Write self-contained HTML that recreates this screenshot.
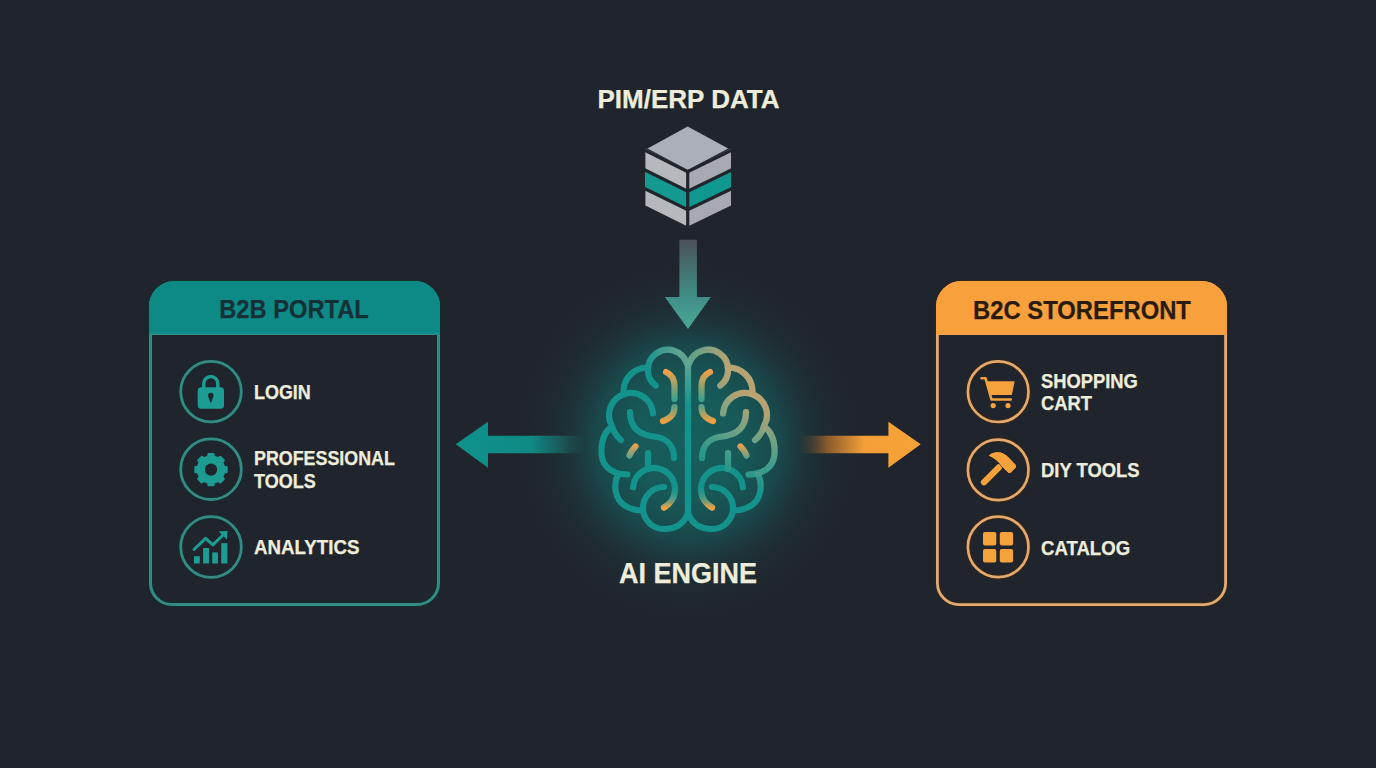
<!DOCTYPE html>
<html><head><meta charset="utf-8">
<style>
html,body{margin:0;padding:0;}
body{width:1376px;height:768px;overflow:hidden;background:#20252d;position:relative;font-family:"Liberation Sans",sans-serif;font-weight:bold;}
.t{position:absolute;white-space:nowrap;line-height:1;color:#eeeddb;}
svg{position:absolute;left:0;top:0;}
</style></head>
<body>
<svg width="1376" height="768" viewBox="0 0 1376 768">
<defs>
<radialGradient id="glow" cx="688" cy="442" r="185" gradientUnits="userSpaceOnUse" gradientTransform="translate(688,442) scale(0.958,1) translate(-688,-442)">
  <stop offset="0" stop-color="#165f5e"/>
  <stop offset="0.31" stop-color="#175958"/>
  <stop offset="0.52" stop-color="#1a484b"/>
  <stop offset="0.6" stop-color="#1c3c41"/>
  <stop offset="0.68" stop-color="#1e3238"/>
  <stop offset="0.78" stop-color="#1f2a31"/>
  <stop offset="0.9" stop-color="#20262e"/>
  <stop offset="1" stop-color="#20252d"/>
</radialGradient>
<radialGradient id="tanR" cx="598" cy="362" r="135" gradientUnits="userSpaceOnUse">
  <stop offset="0" stop-color="#c9a26a" stop-opacity="1"/>
  <stop offset="0.4" stop-color="#bba372" stop-opacity="0.95"/>
  <stop offset="0.7" stop-color="#8aa886" stop-opacity="0.55"/>
  <stop offset="1" stop-color="#6aa88e" stop-opacity="0"/>
</radialGradient>
<radialGradient id="grnL" cx="688" cy="348" r="45" gradientUnits="userSpaceOnUse">
  <stop offset="0" stop-color="#80aa92" stop-opacity="0.9"/>
  <stop offset="1" stop-color="#80aa92" stop-opacity="0"/>
</radialGradient>
<linearGradient id="downg" x1="0" y1="240" x2="0" y2="329" gradientUnits="userSpaceOnUse">
  <stop offset="0" stop-color="#4b5157"/>
  <stop offset="0.6" stop-color="#3f8c84"/>
  <stop offset="1" stop-color="#4aa89b"/>
</linearGradient>
<linearGradient id="leftg" x1="456" y1="0" x2="582" y2="0" gradientUnits="userSpaceOnUse">
  <stop offset="0" stop-color="#0f928c"/>
  <stop offset="0.6" stop-color="#0f8a85"/>
  <stop offset="0.85" stop-color="#1a5a5a" stop-opacity="0.9"/>
  <stop offset="1" stop-color="#1c4446" stop-opacity="0.4"/>
</linearGradient>
<linearGradient id="rightg" x1="796" y1="0" x2="921" y2="0" gradientUnits="userSpaceOnUse">
  <stop offset="0" stop-color="#3a3a2e" stop-opacity="0"/>
  <stop offset="0.25" stop-color="#8a5a2c"/>
  <stop offset="0.55" stop-color="#f4a038"/>
  <stop offset="1" stop-color="#f7a236"/>
</linearGradient>
<linearGradient id="lh" x1="688" y1="345" x2="600" y2="530" gradientUnits="userSpaceOnUse">
  <stop offset="0" stop-color="#6aa894"/>
  <stop offset="0.3" stop-color="#20a092"/>
  <stop offset="1" stop-color="#1a9890"/>
</linearGradient>
<linearGradient id="rh" x1="600" y1="360" x2="688" y2="530" gradientUnits="userSpaceOnUse">
  <stop offset="0" stop-color="#bc9e68"/>
  <stop offset="0.45" stop-color="#8ea584"/>
  <stop offset="1" stop-color="#1d9a90"/>
</linearGradient>
<linearGradient id="ob1" x1="0" y1="371" x2="0" y2="400" gradientUnits="userSpaceOnUse">
  <stop offset="0" stop-color="#f2a048"/><stop offset="1" stop-color="#3aa08e"/>
</linearGradient>
<linearGradient id="ob2" x1="0" y1="406" x2="0" y2="421" gradientUnits="userSpaceOnUse">
  <stop offset="0" stop-color="#5aa088"/><stop offset="1" stop-color="#f2a040"/>
</linearGradient>
<linearGradient id="od" x1="0" y1="445" x2="0" y2="457" gradientUnits="userSpaceOnUse">
  <stop offset="0" stop-color="#e8a048"/><stop offset="1" stop-color="#6aa088"/>
</linearGradient>
<linearGradient id="l7g" x1="0" y1="485" x2="0" y2="508" gradientUnits="userSpaceOnUse">
  <stop offset="0" stop-color="#17958c" stop-opacity="0"/><stop offset="0.55" stop-color="#6a9e84" stop-opacity="0.6"/><stop offset="1" stop-color="#f2a040"/>
</linearGradient>
</defs>
<rect x="480" y="240" width="416" height="410" fill="url(#glow)"/>
<g>
<polygon points="687.7,126.5 728.2,148.6 687.7,170 647.6,148.6" fill="#abafb6"/>
<polygon points="645.4,148.5 687.7,170.5 687.7,226.5 645.4,205.6" fill="#b5b8bd"/>
<polygon points="687.7,170.5 731,148.5 731,205.6 687.7,226.5" fill="#a7abb1"/>
<polygon points="645.4,169.5 687.7,191 687.7,209.5 645.4,188" fill="#13998f"/>
<polygon points="687.7,191 731,169.5 731,188 687.7,209.5" fill="#0f988f"/>
<g stroke="#20252d" stroke-width="3.2" fill="none" stroke-linecap="butt">
<polyline points="644,149.8 687.7,171.8 732.5,149.8"/>
<line x1="687.7" y1="171" x2="687.7" y2="228"/>
<polyline points="644,169.5 687.7,191.3 732.5,169.5"/>
<polyline points="644,188.2 687.7,209.8 732.5,188.2"/>
</g></g>
<path d="M679.4,239.8 L696.9,239.8 L696.9,297 L710.9,297 L688,329 L664.8,297 L679.4,297 Z" fill="url(#downg)"/>
<path d="M455.8,444.3 L488,421.7 L488,435.8 L582,435.8 L582,453.3 L488,453.3 L488,467.8 Z" fill="url(#leftg)"/>
<path d="M920.7,444.3 L888.4,421.7 L888.4,435.8 L796,435.8 L796,453.3 L888.4,453.3 L888.4,467.8 Z" fill="url(#rightg)"/>
<g><g fill="none" stroke="#14938c" stroke-width="6.2" stroke-linecap="round" stroke-linejoin="round">
<path d="M686.8,363.2 A20,20 0 1 0 655.7,385.6"/>
<path d="M648,367.5 A24,24 0 0 0 623.5,392"/>
<path d="M653,413.5 A22,22 0 1 0 612,426 Q614,434 621,440"/>
<path d="M609,429 C600,438 599,458 606,466 C611,472 619,474.5 627.5,474.5"/>
<path d="M618,474.5 C613,484 615,499 624,505 C630,509 636,510.5 643,510.5"/>
<path d="M664,487 A21,21 0 0 0 643,508 A21,21 0 0 0 664,529 C676,529 684,524 688,513"/>
<path d="M630,412 C630,432 645,436 657,437 C668,439 674,447 674,458"/>
<path d="M648,453 L648,469"/>
<path d="M633.1,487.2 A21,21 0 1 1 663.9,507.5"/>
</g>
<g fill="none" stroke="url(#grnL)" stroke-width="6.2" stroke-linecap="round" stroke-linejoin="round">
<path d="M686.8,363.2 A20,20 0 1 0 655.7,385.6"/>
<path d="M648,367.5 A24,24 0 0 0 623.5,392"/>
<path d="M653,413.5 A22,22 0 1 0 612,426 Q614,434 621,440"/>
<path d="M609,429 C600,438 599,458 606,466 C611,472 619,474.5 627.5,474.5"/>
<path d="M618,474.5 C613,484 615,499 624,505 C630,509 636,510.5 643,510.5"/>
<path d="M664,487 A21,21 0 0 0 643,508 A21,21 0 0 0 664,529 C676,529 684,524 688,513"/>
<path d="M630,412 C630,432 645,436 657,437 C668,439 674,447 674,458"/>
<path d="M648,453 L648,469"/>
</g>
<g fill="none" stroke-width="6.2" stroke-linecap="round">
<path d="M633.1,487.2 A21,21 0 1 1 663.9,507.5" stroke="url(#l7g)"/>
<path d="M666,372 Q674.5,376 674.5,386 L674.5,399" stroke="url(#ob1)"/>
<path d="M674.5,407 Q674.5,417 663,421" stroke="url(#ob2)"/>
<path d="M635.5,446.5 Q631.5,450.5 629.5,455.5" stroke="url(#od)"/>
</g></g>
<g transform="translate(1376,0) scale(-1,1)"><g fill="none" stroke="#14938c" stroke-width="6.2" stroke-linecap="round" stroke-linejoin="round">
<path d="M686.8,363.2 A20,20 0 1 0 655.7,385.6"/>
<path d="M648,367.5 A24,24 0 0 0 623.5,392"/>
<path d="M653,413.5 A22,22 0 1 0 612,426 Q614,434 621,440"/>
<path d="M609,429 C600,438 599,458 606,466 C611,472 619,474.5 627.5,474.5"/>
<path d="M618,474.5 C613,484 615,499 624,505 C630,509 636,510.5 643,510.5"/>
<path d="M664,487 A21,21 0 0 0 643,508 A21,21 0 0 0 664,529 C676,529 684,524 688,513"/>
<path d="M630,412 C630,432 645,436 657,437 C668,439 674,447 674,458"/>
<path d="M648,453 L648,469"/>
<path d="M633.1,487.2 A21,21 0 1 1 663.9,507.5"/>
</g>
<g fill="none" stroke="url(#tanR)" stroke-width="6.2" stroke-linecap="round" stroke-linejoin="round">
<path d="M686.8,363.2 A20,20 0 1 0 655.7,385.6"/>
<path d="M648,367.5 A24,24 0 0 0 623.5,392"/>
<path d="M653,413.5 A22,22 0 1 0 612,426 Q614,434 621,440"/>
<path d="M609,429 C600,438 599,458 606,466 C611,472 619,474.5 627.5,474.5"/>
<path d="M618,474.5 C613,484 615,499 624,505 C630,509 636,510.5 643,510.5"/>
<path d="M664,487 A21,21 0 0 0 643,508 A21,21 0 0 0 664,529 C676,529 684,524 688,513"/>
<path d="M630,412 C630,432 645,436 657,437 C668,439 674,447 674,458"/>
<path d="M648,453 L648,469"/>
</g>
<g fill="none" stroke-width="6.2" stroke-linecap="round">
<path d="M633.1,487.2 A21,21 0 1 1 663.9,507.5" stroke="url(#l7g)"/>
<path d="M666,372 Q674.5,376 674.5,386 L674.5,399" stroke="url(#ob1)"/>
<path d="M674.5,407 Q674.5,417 663,421" stroke="url(#ob2)"/>
<path d="M635.5,446.5 Q631.5,450.5 629.5,455.5" stroke="url(#od)"/>
</g></g>
<linearGradient id="mid" x1="0" y1="355" x2="0" y2="520" gradientUnits="userSpaceOnUse"><stop offset="0" stop-color="#72a892"/><stop offset="0.12" stop-color="#4aa092"/><stop offset="0.3" stop-color="#14948e"/><stop offset="1" stop-color="#11948f"/></linearGradient>
<path d="M688,362 L688,516" stroke="url(#mid)" stroke-width="6.2" stroke-linecap="round" fill="none"/>
<path d="M174.5,282.5 L414.5,282.5 A24.0,24.0 0 0 1 438.5,306.5 L438.5,583 A21.5,21.5 0 0 1 417,604.5 L172,604.5 A21.5,21.5 0 0 1 150.5,583 L150.5,306.5 A24.0,24.0 0 0 1 174.5,282.5 Z" fill="none" stroke="#10302f" stroke-width="5.2" stroke-opacity="0.8"/>
<path d="M174.5,282.5 L414.5,282.5 A24.0,24.0 0 0 1 438.5,306.5 L438.5,583 A21.5,21.5 0 0 1 417,604.5 L172,604.5 A21.5,21.5 0 0 1 150.5,583 L150.5,306.5 A24.0,24.0 0 0 1 174.5,282.5 Z" fill="none" stroke="#358a84" stroke-width="3"/>
<path d="M174.5,281 L414.5,281 A25.5,25.5 0 0 1 440,306.5 L440,335 L149,335 L149,306.5 A25.5,25.5 0 0 1 174.5,281 Z" fill="#0e8a86"/>
<line x1="150" y1="334.2" x2="439" y2="334.2" stroke="#2a908a" stroke-width="1.6"/>
<path d="M961.5,282.4 L1201.5,282.4 A24.1,24.1 0 0 1 1225.6,306.5 L1225.6,583 A21.6,21.6 0 0 1 1204,604.6 L959,604.6 A21.6,21.6 0 0 1 937.4,583 L937.4,306.5 A24.1,24.1 0 0 1 961.5,282.4 Z" fill="none" stroke="#3a2410" stroke-width="5.0" stroke-opacity="0.8"/>
<path d="M961.5,282.4 L1201.5,282.4 A24.1,24.1 0 0 1 1225.6,306.5 L1225.6,583 A21.6,21.6 0 0 1 1204,604.6 L959,604.6 A21.6,21.6 0 0 1 937.4,583 L937.4,306.5 A24.1,24.1 0 0 1 961.5,282.4 Z" fill="none" stroke="#e0ab74" stroke-width="2.8"/>
<path d="M961.5,281 L1201.5,281 A25.5,25.5 0 0 1 1227,306.5 L1227,335 L936,335 L936,306.5 A25.5,25.5 0 0 1 961.5,281 Z" fill="#f7a03c"/>
<line x1="937" y1="334.2" x2="1226" y2="334.2" stroke="#f0a050" stroke-width="1.6"/>
<circle cx="211" cy="391.6" r="30.3" fill="none" stroke="#10302f" stroke-opacity="0.8" stroke-width="5"/>
<circle cx="211" cy="391.6" r="30.3" fill="none" stroke="#368a83" stroke-width="2.8"/>
<circle cx="211" cy="469.2" r="30.3" fill="none" stroke="#10302f" stroke-opacity="0.8" stroke-width="5"/>
<circle cx="211" cy="469.2" r="30.3" fill="none" stroke="#368a83" stroke-width="2.8"/>
<circle cx="211" cy="547" r="30.3" fill="none" stroke="#10302f" stroke-opacity="0.8" stroke-width="5"/>
<circle cx="211" cy="547" r="30.3" fill="none" stroke="#368a83" stroke-width="2.8"/>
<circle cx="998.2" cy="391.7" r="30.3" fill="none" stroke="#3a2410" stroke-opacity="0.8" stroke-width="5"/>
<circle cx="998.2" cy="391.7" r="30.3" fill="none" stroke="#e2a970" stroke-width="2.7"/>
<circle cx="998.2" cy="469.9" r="30.3" fill="none" stroke="#3a2410" stroke-opacity="0.8" stroke-width="5"/>
<circle cx="998.2" cy="469.9" r="30.3" fill="none" stroke="#e2a970" stroke-width="2.7"/>
<circle cx="998.2" cy="546.9" r="30.3" fill="none" stroke="#3a2410" stroke-opacity="0.8" stroke-width="5"/>
<circle cx="998.2" cy="546.9" r="30.3" fill="none" stroke="#e2a970" stroke-width="2.7"/>
<path d="M203.8,388 L203.8,383.5 A7,7 0 0 1 217.8,383.5 L217.8,388" fill="none" stroke="#1c9c92" stroke-width="3.4"/>
<rect x="197.7" y="387.2" width="26.3" height="21.5" rx="3.5" fill="#1c9c92"/>
<circle cx="210.8" cy="395.5" r="2.7" fill="#20252d"/><path d="M208.4,396.5 L213.2,396.5 L211.2,402.8 L210.4,402.8 Z" fill="#20252d"/>
<polygon points="207.71,456.40 208.33,453.62 213.67,453.62 214.29,456.40 216.20,457.04 218.00,457.94 220.41,456.41 224.19,460.19 222.66,462.60 223.56,464.40 224.20,466.31 226.98,466.93 226.98,472.27 224.20,472.89 223.56,474.80 222.66,476.60 224.19,479.01 220.41,482.79 218.00,481.26 216.20,482.16 214.29,482.80 213.67,485.58 208.33,485.58 207.71,482.80 205.80,482.16 204.00,481.26 201.59,482.79 197.81,479.01 199.34,476.60 198.44,474.80 197.80,472.89 195.02,472.27 195.02,466.93 197.80,466.31 198.44,464.40 199.34,462.60 197.81,460.19 201.59,456.41 204.00,457.94 205.80,457.04" fill="#1c9c92" stroke="#1c9c92" stroke-width="1.4" stroke-linejoin="round"/>
<circle cx="211" cy="469.6" r="6.1" fill="#20252d"/>
<rect x="194" y="556.2" width="5.8" height="7.3" fill="#1c9c92"/>
<rect x="203.1" y="548" width="5.9" height="15.5" fill="#1c9c92"/>
<rect x="212.2" y="552.4" width="5.8" height="11.1" fill="#1c9c92"/>
<rect x="221.2" y="543.1" width="6.2" height="20.4" fill="#1c9c92"/>
<polyline points="194,549.5 205.6,538.3 212.9,544.9 223,535" fill="none" stroke="#1c9c92" stroke-width="3" stroke-linecap="round" stroke-linejoin="round"/>
<polygon points="218.7,531.5 227.6,530.8 226.9,539.5" fill="#1c9c92"/>
<path d="M981.5,378.2 L985.5,378.2 L991.5,399.5 L1010.8,399.5" fill="none" stroke="#f5a13c" stroke-width="2.6" stroke-linecap="round" stroke-linejoin="round"/>
<polygon points="986.4,381.2 1014.7,381.2 1011.8,395 990.8,395" fill="#f5a13c"/>
<circle cx="993.2" cy="405.6" r="2.6" fill="#f5a13c"/><circle cx="1008" cy="405.6" r="2.6" fill="#f5a13c"/>
<line x1="984" y1="482.3" x2="999" y2="467.3" stroke="#f5a13c" stroke-width="6.2" stroke-linecap="round"/>
<path d="M988.8,455.5 C995,450.5 1003,451.5 1008,457 L1010.5,459.5 L1015.7,465 Q1016.7,466.5 1015.5,467.8 L1010.8,472.5 Q1009.5,473.7 1008.2,472.5 L1001.5,466 C999,462 995,458 988.8,455.5 Z" fill="#f5a13c" stroke="#20252d" stroke-width="1.3" paint-order="stroke"/>
<path d="M988.8,455.5 C995,450.5 1003,451.5 1008,457 L1010.5,459.5 L1015.7,465 Q1016.7,466.5 1015.5,467.8 L1010.8,472.5 Q1009.5,473.7 1008.2,472.5 L1001.5,466 C999,462 995,458 988.8,455.5 Z" fill="#f5a13c"/>
<rect x="983" y="532" width="13.3" height="13.5" rx="2" fill="#f5a13c"/>
<rect x="983" y="549" width="13.3" height="13.5" rx="2" fill="#f5a13c"/>
<rect x="999.8" y="532" width="13.3" height="13.5" rx="2" fill="#f5a13c"/>
<rect x="999.8" y="549" width="13.3" height="13.5" rx="2" fill="#f5a13c"/>
</svg>
<div class="t" style="left:388.50px;width:600px;text-align:center;top:85.71px;font-size:26px;letter-spacing:0px;color:#eeeddb;transform-origin:300px 0;-webkit-text-stroke:0.25px currentColor;">PIM/ERP DATA</div>
<div class="t" style="left:387.70px;width:600px;text-align:center;top:558.25px;font-size:29.5px;letter-spacing:0px;color:#eeeddb;transform:scaleX(0.915);transform-origin:300px 0;-webkit-text-stroke:0.25px currentColor;">AI ENGINE</div>
<div class="t" style="left:-5.60px;width:600px;text-align:center;top:297.26px;font-size:25.6px;letter-spacing:0px;color:#163038;transform:scaleX(0.925);transform-origin:300px 0;-webkit-text-stroke:0.25px currentColor;">B2B PORTAL</div>
<div class="t" style="left:782.00px;width:600px;text-align:center;top:297.56px;font-size:25.6px;letter-spacing:0px;color:#2a1b10;transform:scaleX(0.93);transform-origin:300px 0;-webkit-text-stroke:0.25px currentColor;">B2C STOREFRONT</div>
<div class="t" style="left:253.60px;top:382.96px;font-size:19.5px;letter-spacing:0px;color:#eeeddb;transform:scaleX(0.92);transform-origin:0 0;-webkit-text-stroke:0.25px currentColor;">LOGIN</div>
<div class="t" style="left:253.70px;top:449.06px;font-size:19.5px;letter-spacing:0px;color:#eeeddb;transform:scaleX(0.916);transform-origin:0 0;-webkit-text-stroke:0.25px currentColor;">PROFESSIONAL</div>
<div class="t" style="left:254.20px;top:471.76px;font-size:19.5px;letter-spacing:0px;color:#eeeddb;transform:scaleX(0.924);transform-origin:0 0;-webkit-text-stroke:0.25px currentColor;">TOOLS</div>
<div class="t" style="left:253.80px;top:538.36px;font-size:19.5px;letter-spacing:0px;color:#eeeddb;transform:scaleX(0.96);transform-origin:0 0;-webkit-text-stroke:0.25px currentColor;">ANALYTICS</div>
<div class="t" style="left:1040.50px;top:371.76px;font-size:19.5px;letter-spacing:0px;color:#eeeddb;transform:scaleX(0.94);transform-origin:0 0;-webkit-text-stroke:0.25px currentColor;">SHOPPING</div>
<div class="t" style="left:1040.50px;top:394.26px;font-size:19.5px;letter-spacing:0px;color:#eeeddb;transform:scaleX(0.94);transform-origin:0 0;-webkit-text-stroke:0.25px currentColor;">CART</div>
<div class="t" style="left:1040.60px;top:460.86px;font-size:19.5px;letter-spacing:0px;color:#eeeddb;transform:scaleX(0.945);transform-origin:0 0;-webkit-text-stroke:0.25px currentColor;">DIY TOOLS</div>
<div class="t" style="left:1040.60px;top:539.06px;font-size:19.5px;letter-spacing:0px;color:#eeeddb;transform:scaleX(0.953);transform-origin:0 0;-webkit-text-stroke:0.25px currentColor;">CATALOG</div>

</body></html>
